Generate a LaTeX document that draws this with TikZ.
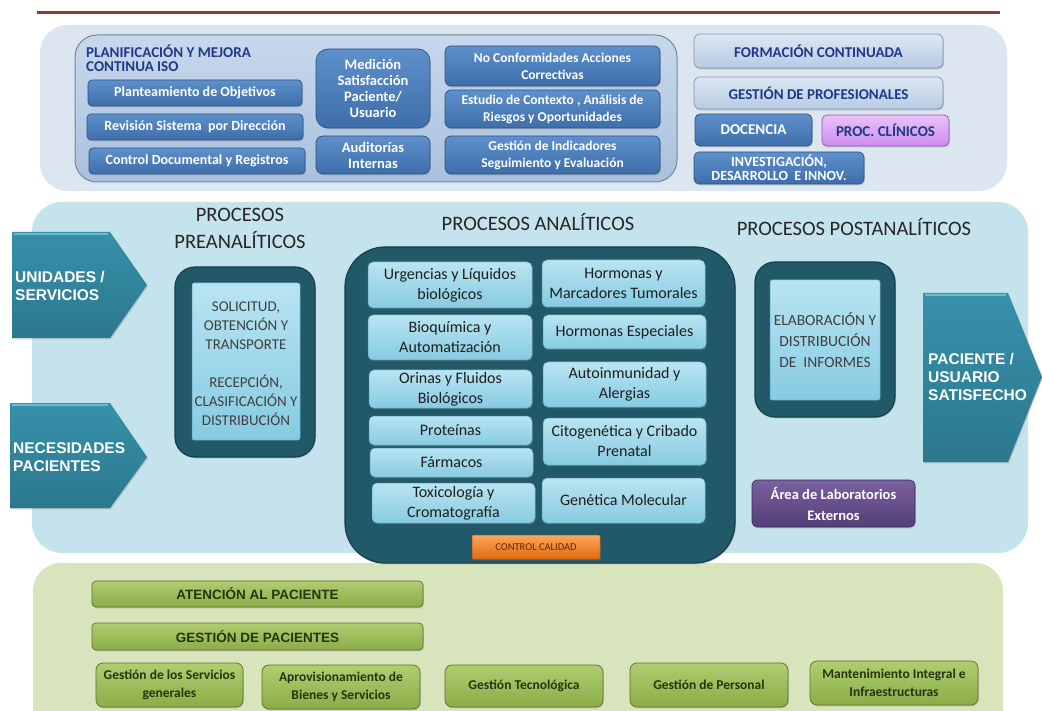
\documentclass[tikz,border=0pt]{standalone}
\usepackage{fontspec}
\setmainfont{Carlito}
\newfontfamily\arialf{Liberation Sans}
\usetikzlibrary{shadows}
\newcommand\myfs[2]{\fontsize{#1}{#2}\selectfont}
\definecolor{rline}{HTML}{9B3535}
\definecolor{toppanel}{HTML}{DCE6F1}
\definecolor{plantop}{HTML}{C8D8EC}
\definecolor{planbot}{HTML}{A9C1DD}
\definecolor{planline}{HTML}{76879A}
\definecolor{bluetop}{HTML}{5E90CC}
\definecolor{bluebot}{HTML}{3D6EAA}
\definecolor{bluedk}{HTML}{2E5282}
\definecolor{lighttop}{HTML}{DCE7F4}
\definecolor{lightbot}{HTML}{B7CBE3}
\definecolor{lightdk}{HTML}{8394A8}
\definecolor{navy}{HTML}{1F3A87}
\definecolor{violtop}{HTML}{EBC2FB}
\definecolor{violbot}{HTML}{CB8DEE}
\definecolor{violdk}{HTML}{8A5AA6}
\definecolor{midpanel}{HTML}{C5E3EC}
\definecolor{tealtop}{HTML}{3791A9}
\definecolor{tealbot}{HTML}{2B788D}
\definecolor{teallight}{HTML}{6DBBD0}
\definecolor{darkbox}{HTML}{215968}
\definecolor{darkdk}{HTML}{173F4A}
\definecolor{cyantop}{HTML}{B9E4F2}
\definecolor{cyanbot}{HTML}{86CBE1}
\definecolor{cyandk}{HTML}{5FA6BC}
\definecolor{oratop}{HTML}{FAA660}
\definecolor{orabot}{HTML}{E26A0A}
\definecolor{oradk}{HTML}{B35810}
\definecolor{oratext}{HTML}{6B2400}
\definecolor{purtop}{HTML}{7A609F}
\definecolor{purbot}{HTML}{543F77}
\definecolor{purdk}{HTML}{3E2C5A}
\definecolor{greenpanel}{HTML}{D8E4BC}
\definecolor{greentop}{HTML}{B0CD70}
\definecolor{greenbot}{HTML}{8BAC47}
\definecolor{greendk}{HTML}{5A7428}
\definecolor{gtext}{HTML}{28340F}
\newcommand{\mybox}[7]{%
  \pgfmathsetmacro\bxw{#5-#3}%
  \pgfmathsetmacro\bxh{#6-#4}%
  \pgfmathsetmacro\bxcx{(#3+#5)/2}%
  \pgfmathsetmacro\bxcy{(#4+#6)/2}%
  \node[#1, minimum width=\bxw pt, minimum height=\bxh pt] (#2) at (\bxcx,\bxcy) {#7};}
\tikzset{
  shad/.style={drop shadow={shadow xshift=0.8pt, shadow yshift=-1.3pt, opacity=0.35}},
  bluebox/.style={shad, rounded corners=4pt, draw=bluedk, line width=0.7pt, top color=bluetop, bottom color=bluebot, text=white, font=\myfs{14}{16}\bfseries, inner sep=1pt, align=center},
  lightbox/.style={shad, rounded corners=4pt, draw=lightdk, line width=0.7pt, top color=lighttop, bottom color=lightbot, text=navy, font=\myfs{15}{16}\bfseries, inner sep=1pt, align=center},
  violbox/.style={shad, rounded corners=4pt, draw=violdk, line width=0.7pt, top color=violtop, bottom color=violbot, text=navy, font=\myfs{15}{16}\bfseries, inner sep=1pt, align=center},
  darkpanel/.style={shad, fill=darkbox, draw=darkdk, line width=1.2pt},
  cyanbox/.style={shad, rounded corners=5pt, draw=cyandk, line width=0.5pt, top color=cyantop, bottom color=cyanbot, text=black!88, font=\myfs{16}{20}, inner sep=1pt, align=center},
  procbox/.style={rounded corners=2pt, draw=cyandk, line width=0.5pt, top color=cyantop, bottom color=cyanbot, text=black!75, font=\myfs{15}{19}, inner sep=1pt, align=center},
  orabox/.style={shad, rounded corners=1pt, draw=oradk, line width=0.5pt, top color=oratop, bottom color=orabot, text=oratext, font=\myfs{10.5}{12}, inner sep=1pt, align=center},
  purbox/.style={shad, rounded corners=5pt, draw=purdk, line width=0.6pt, top color=purtop, bottom color=purbot, text=white, font=\myfs{14.5}{21}\bfseries, inner sep=1pt, align=center},
  greenbox/.style={shad, rounded corners=4pt, draw=greendk, line width=0.7pt, top color=greentop, bottom color=greenbot, text=gtext, inner sep=1pt, align=center},
  gwide/.style={greenbox, font=\arialf\myfs{13.5}{16}\bfseries},
  gsmall/.style={greenbox, rounded corners=7pt, font=\myfs{13.5}{18}\bfseries},
  titletxt/.style={font=\myfs{20.5}{27}, text=black!85, align=center, inner sep=0pt},
  arrowtxt/.style={font=\arialf\myfs{15.5}{18}\bfseries, text=white, align=left, inner sep=0pt, anchor=west},
  tealarrow/.style={shad, top color=tealtop, bottom color=tealbot},
}
\begin{document}
\begin{tikzpicture}[x=1pt,y=-1pt]
\useasboundingbox (0,0) rectangle (1042,711);
\fill[white] (0,0) rectangle (1042,711);
\draw[rline, line width=3pt] (37,12.5) -- (1000,12.5);

% ---------- top panel
\fill[toppanel, rounded corners=28pt] (40,25) rectangle (1007,191);
\draw[planline, top color=plantop, bottom color=planbot, rounded corners=22pt, line width=1pt] (75,35) rectangle (677,182);
\node[anchor=north west, align=left, text=navy, font=\myfs{15}{14.5}\bfseries, inner sep=0pt] (ptitle) at (86,44.5) {PLANIFICACIÓN Y MEJORA\\CONTINUA ISO};
\mybox{bluebox}{p1}{88}{80}{302}{106}{Planteamiento de Objetivos}
\mybox{bluebox}{p2}{87}{114}{303}{140}{Revisión Sistema\ \ por Dirección}
\mybox{bluebox}{p3}{89}{148}{305}{174}{Control Documental y Registros}
\mybox{bluebox, rounded corners=12pt, font=\myfs{14.5}{16}\bfseries}{m1}{316}{49}{430}{128}{Medición\\Satisfacción\\Paciente/\\Usuario}
\mybox{bluebox, rounded corners=7pt, font=\myfs{14.5}{16}\bfseries}{m2}{316}{136}{430}{174}{Auditorías\\Internas}
\mybox{bluebox, rounded corners=6pt, font=\myfs{13.5}{17}\bfseries}{r1}{445}{46}{660}{86}{No Conformidades Acciones\\Correctivas}
\mybox{bluebox, rounded corners=6pt, font=\myfs{13.5}{17}\bfseries}{r2}{445}{90}{660}{128}{Estudio de Contexto , Análisis de\\Riesgos y Oportunidades}
\mybox{bluebox, rounded corners=6pt, font=\myfs{13.5}{17}\bfseries}{r3}{445}{136}{660}{174}{Gestión de Indicadores\\Seguimiento y Evaluación}

\mybox{lightbox, rounded corners=6pt}{f1}{694}{34}{943}{68}{FORMACIÓN CONTINUADA}
\mybox{lightbox, rounded corners=6pt}{f2}{694}{77}{943}{109}{GESTIÓN DE PROFESIONALES}
\mybox{bluebox, rounded corners=5pt, font=\myfs{15}{16}\bfseries}{doc}{695}{114}{812}{146}{DOCENCIA}
\mybox{violbox, rounded corners=5pt}{pc}{822}{115}{949}{146}{PROC. CLÍNICOS}
\mybox{bluebox, rounded corners=5pt, font=\myfs{14}{14}\bfseries}{inv}{694}{152}{864}{184}{INVESTIGACIÓN,\\DESARROLLO\ \ E INNOV.}

% ---------- middle panel
\fill[midpanel, rounded corners=30pt] (32,202) rectangle (1028,553);
% ---------- bottom panel
\fill[greenpanel, rounded corners=28pt] (33,563) rectangle (1003,740);

% arrows
\path[tealarrow] (12,232) -- (110,232) -- (147,285) -- (110,338) -- (12,338) -- cycle;
\draw[teallight, line width=1.2pt] (14,234) -- (108,234);
\node[arrowtxt] (uni) at (15,286) {UNIDADES /\\SERVICIOS};
\path[tealarrow] (10,403) -- (110,403) -- (147,457) -- (110,508) -- (10,508) -- cycle;
\draw[teallight, line width=1.2pt] (12,405) -- (108,405);
\node[arrowtxt] (nec) at (13,457) {NECESIDADES\\PACIENTES};
\path[tealarrow] (923,293) -- (1008,293) -- (1042,377) -- (1008,462) -- (923,462) -- cycle;
\draw[teallight, line width=1.2pt] (925,295) -- (1006,295);
\node[arrowtxt] (pac) at (928,377) {PACIENTE /\\USUARIO\\SATISFECHO};

% titles
\node[titletxt] (tpre) at (240,228) {PROCESOS\\PREANALÍTICOS};
\node[titletxt] (tana) at (538,222) {PROCESOS ANALÍTICOS};
\node[titletxt] (tpost) at (854,227) {PROCESOS POSTANALÍTICOS};

% preanalytic
\draw[darkpanel, rounded corners=20pt] (175,267) rectangle (315,457);
\mybox{procbox}{pre}{192}{283}{300}{440}{}
\node[font=\myfs{15}{19}, text=black!75, align=center, inner sep=0pt] (pretxt) at (246,364) {SOLICITUD,\\OBTENCIÓN Y\\TRANSPORTE\\[19pt]RECEPCIÓN,\\CLASIFICACIÓN Y\\DISTRIBUCIÓN};

% analytic
\draw[darkpanel, rounded corners=40pt] (345,247) rectangle (735,563);
\mybox{cyanbox}{a1}{368}{262}{532}{308}{Urgencias y Líquidos\\biológicos}
\mybox{cyanbox}{a2}{368}{315}{532}{360}{Bioquímica y\\Automatización}
\mybox{cyanbox}{a3}{369}{370}{532}{408}{Orinas y Fluidos\\Biológicos}
\mybox{cyanbox}{a4}{369}{416}{532}{445}{Proteínas}
\mybox{cyanbox}{a5}{370}{448}{533}{477}{Fármacos}
\mybox{cyanbox}{a6}{372}{483}{535}{523}{Toxicología y\\Cromatografía}
\mybox{cyanbox}{b1}{542}{260}{705}{307}{Hormonas y\\Marcadores Tumorales}
\mybox{cyanbox}{b2}{543}{315}{706}{349}{Hormonas Especiales}
\mybox{cyanbox}{b3}{543}{362}{706}{407}{Autoinmunidad y\\Alergias}
\mybox{cyanbox}{b4}{543}{418}{706}{465}{Citogenética y Cribado\\Prenatal}
\mybox{cyanbox}{b5}{542}{478}{705}{523}{Genética Molecular}
\mybox{orabox}{cc}{472}{535}{600}{559}{CONTROL CALIDAD}

% postanalytic
\draw[darkpanel, rounded corners=20pt] (755,262) rectangle (895,417);
\mybox{procbox, font=\myfs{15.5}{21}}{post}{770}{280}{880}{400}{ELABORACIÓN Y\\DISTRIBUCIÓN\\DE\ \ INFORMES}
\mybox{purbox}{ext}{752}{480}{915}{527}{Área de Laboratorios\\Externos}

% bottom
\mybox{gwide}{at}{92}{581}{423}{607}{ATENCIÓN AL PACIENTE}
\mybox{gwide}{gp}{92}{623}{423}{650}{GESTIÓN DE PACIENTES}
\mybox{gsmall}{g1}{96}{663}{243}{707}{Gestión de los Servicios\\generales}
\mybox{gsmall}{g2}{262}{665}{420}{709}{Aprovisionamiento de\\Bienes y Servicios}
\mybox{gsmall}{g3}{445}{665}{603}{707}{Gestión Tecnológica}
\mybox{gsmall}{g4}{630}{663}{788}{707}{Gestión de Personal}
\mybox{gsmall}{g5}{810}{661}{978}{705}{Mantenimiento Integral e\\Infraestructuras}
\end{tikzpicture}
\end{document}
